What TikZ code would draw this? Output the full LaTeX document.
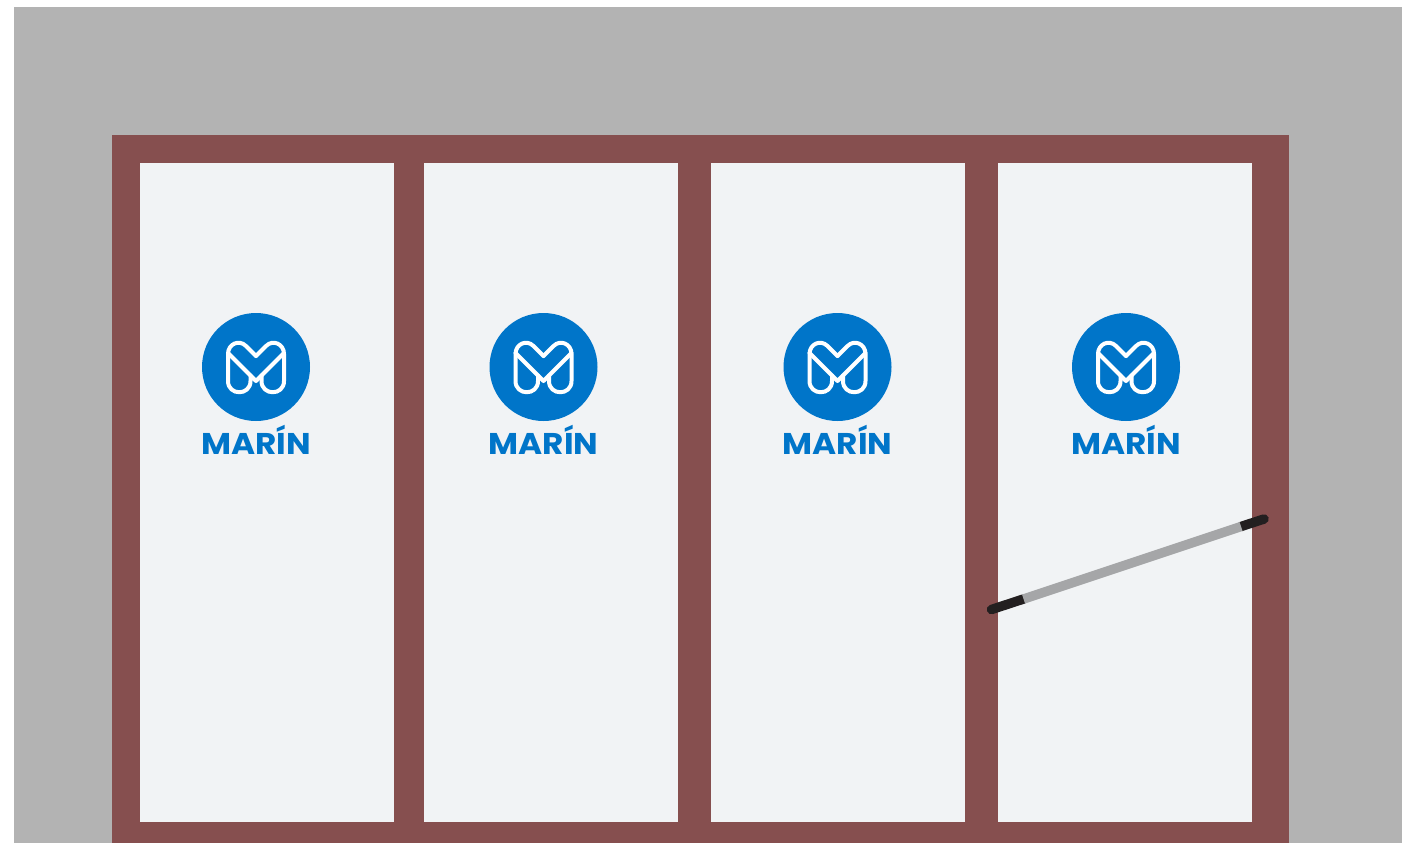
\documentclass[tikz,border=0pt]{standalone}
\usepackage{fontspec}
\setmainfont{Poppins}
\usepackage{tikz}

\definecolor{wallgray}{HTML}{B3B3B3}
\definecolor{framered}{HTML}{864F4F}
\definecolor{glasswhite}{HTML}{F1F3F5}
\definecolor{logoblue}{HTML}{0075C9}
\definecolor{barblack}{HTML}{231F20}
\definecolor{bargray}{HTML}{A5A6A8}

\tikzset{
  wall/.style={fill=wallgray, draw=none},
  frame/.style={fill=framered, draw=none},
  glass/.style={fill=glasswhite, draw=none},
  logostroke/.style={draw=white, line width=4pt, line join=round, line cap=round},
  logotext/.style={text=logoblue, font=\fontsize{30}{30}\bfseries, inner sep=0pt, anchor=base, xscale=1.09},
  barend/.style={draw=barblack, line width=9.5pt, line cap=round},
  barmid/.style={draw=bargray, line width=9.5pt}
}

\newcommand{\marinlogo}[2]{%
  \begin{scope}[shift={(#1,367)}]
    \fill[logoblue] (0,0) circle (54);
    \draw[logostroke] (0,-11) -- (-10,-21) .. controls (-17,-28) and (-28,-23) .. (-28,-13)
      -- (-28,14) .. controls (-28,29) and (-5.5,29) .. (-5.5,14) -- (-5.5,8.5);
    \draw[logostroke] (0,-11) -- (10,-21) .. controls (17,-28) and (28,-23) .. (28,-13)
      -- (28,14) .. controls (28,29) and (5.5,29) .. (5.5,14) -- (5.5,8.5);
    \draw[logostroke] (-28,-14) -- (0,14) -- (28,-14);
  \end{scope}
  \node[logotext] (#2) at (#1,454) {MARÍN};
}

\begin{document}
\begin{tikzpicture}[x=1pt, y=-1pt]
  \useasboundingbox (0,0) rectangle (1412,843);
  % wall and frame
  \fill[wall] (14,7) rectangle (1402,843);
  \fill[frame] (112,135) rectangle (1289,843);
  % glass panels
  \fill[glass] (140,163) rectangle (394,822);
  \fill[glass] (424,163) rectangle (678,822);
  \fill[glass] (711,163) rectangle (965,822);
  \fill[glass] (998,163) rectangle (1252,822);
  % logos
  \marinlogo{256}{logoa}
  \marinlogo{543.5}{logob}
  \marinlogo{837.5}{logoc}
  \marinlogo{1126}{logod}
  % bar
  \coordinate (barleft) at (991.5,609.5);
  \coordinate (barright) at (1264,519);
  \coordinate (midleft) at (1023.5,599);
  \coordinate (midright) at (1241,526.5);
  \draw[barend] (barleft) -- (midleft);
  \draw[barend] (midright) -- (barright);
  \draw[barmid] (midleft) -- (midright);
\end{tikzpicture}
\end{document}
